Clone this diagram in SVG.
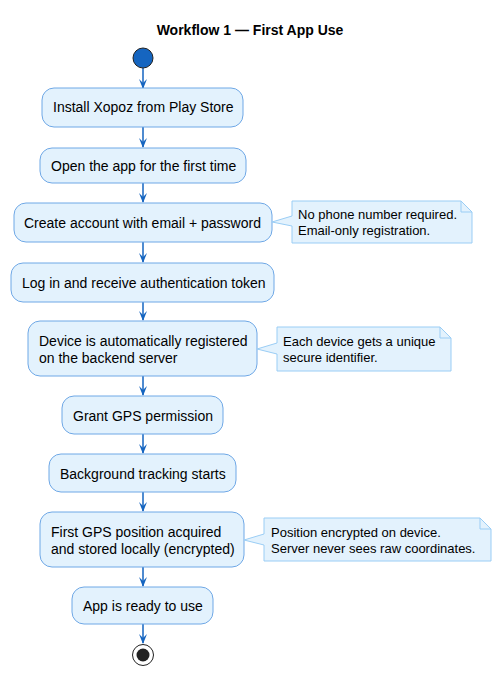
<svg xmlns="http://www.w3.org/2000/svg" width="501" height="676" viewBox="0 0 501 676">
<defs>
<style>
.n rect{fill:#E3F2FD;stroke:#6FA8E6;stroke-width:1}
.nt{fill:#E3F2FD;stroke:#9ACDF5;stroke-width:1}
text{font-family:"Liberation Sans",Arial,sans-serif;font-size:13px;fill:#000}
.n text{font-size:14px}
.ttl{font-weight:bold;font-size:14px}
.c line{stroke:#1565C0;stroke-width:1.5}
</style>
<marker id="ah" viewBox="0 0 10 8" refX="9" refY="4" markerWidth="10" markerHeight="8" orient="auto" markerUnits="userSpaceOnUse">
<path d="M0,0 L10,4 L0,8 L4,4 Z" fill="#1565C0"/>
</marker>
</defs>
<rect width="501" height="676" fill="#fff"/>
<text class="ttl" x="250" y="35" text-anchor="middle">Workflow 1 — First App Use</text>

<g id="connectors" class="c">
<line x1="143" y1="68" x2="143" y2="88" marker-end="url(#ah)"/>
<line x1="143" y1="127" x2="143" y2="147" marker-end="url(#ah)"/>
<line x1="143" y1="183" x2="143" y2="202" marker-end="url(#ah)"/>
<line x1="143" y1="242" x2="143" y2="262" marker-end="url(#ah)"/>
<line x1="143" y1="302" x2="143" y2="320" marker-end="url(#ah)"/>
<line x1="143" y1="376" x2="143" y2="395" marker-end="url(#ah)"/>
<line x1="143" y1="434" x2="143" y2="453" marker-end="url(#ah)"/>
<line x1="143" y1="492" x2="143" y2="511" marker-end="url(#ah)"/>
<line x1="143" y1="567" x2="143" y2="586" marker-end="url(#ah)"/>
<line x1="143" y1="624" x2="143" y2="643" marker-end="url(#ah)"/>
</g>

<g id="start"><circle cx="143" cy="58" r="10" fill="#1565C0" stroke="#222" stroke-width="1"/></g>

<g id="n1" class="n"><rect x="42" y="88" width="201" height="39" rx="12"/><text x="53" y="112">Install Xopoz from Play Store</text></g>
<g id="n2" class="n"><rect x="40" y="148" width="206" height="35" rx="12"/><text x="51" y="171">Open the app for the first time</text></g>
<g id="n3" class="n"><rect x="14" y="203" width="258" height="39" rx="12"/><text x="24" y="228">Create account with email + password</text></g>
<g id="note1">
<path class="nt" d="M292,201 L461,201 L472,212 L472,243 L292,243 L292,226 L272,222 L292,216 Z"/>
<path d="M461,201 L461,212 L472,212" fill="none" stroke="#9ACDF5"/>
<text x="298" y="219">No phone number required.</text>
<text x="298" y="235">Email-only registration.</text>
</g>
<g id="n4" class="n"><rect x="11" y="263" width="263" height="39" rx="12"/><text x="22" y="288">Log in and receive authentication token</text></g>
<g id="n5" class="n"><rect x="28" y="321" width="229" height="55" rx="12"/><text x="39" y="346">Device is automatically registered</text><text x="39" y="363">on the backend server</text></g>
<g id="note2">
<path class="nt" d="M277,327 L440,327 L451,338 L451,371 L277,371 L277,354 L257,349 L277,343 Z"/>
<path d="M440,327 L440,338 L451,338" fill="none" stroke="#9ACDF5"/>
<text x="283" y="346">Each device gets a unique</text>
<text x="283" y="362">secure identifier.</text>
</g>
<g id="n6" class="n"><rect x="62" y="396" width="161" height="38" rx="12"/><text x="73" y="421">Grant GPS permission</text></g>
<g id="n7" class="n"><rect x="49" y="454" width="187" height="38" rx="12"/><text x="60" y="479">Background tracking starts</text></g>
<g id="n8" class="n"><rect x="40" y="512" width="204" height="55" rx="12"/><text x="51" y="537">First GPS position acquired</text><text x="51" y="554">and stored locally (encrypted)</text></g>
<g id="note3">
<path class="nt" d="M264,518 L480,518 L491,529 L491,561 L264,561 L264,545 L244,540 L264,534 Z"/>
<path d="M480,518 L480,529 L491,529" fill="none" stroke="#9ACDF5"/>
<text x="271" y="537">Position encrypted on device.</text>
<text x="271" y="553">Server never sees raw coordinates.</text>
</g>
<g id="n9" class="n"><rect x="72" y="587" width="141" height="37" rx="12"/><text x="83" y="611">App is ready to use</text></g>
<g id="end"><circle cx="143" cy="655" r="10.5" fill="#fff" stroke="#222" stroke-width="1"/><circle cx="143" cy="655" r="6.5" fill="#222"/></g>
</svg>
